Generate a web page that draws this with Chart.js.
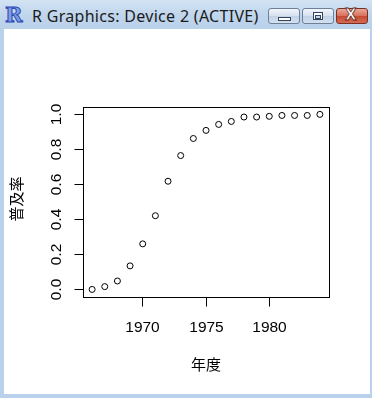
<!DOCTYPE html>
<html>
<head>
<meta charset="utf-8">
<script src="https://cdn.jsdelivr.net/npm/chart.js@4.4.0/dist/chart.umd.min.js"></script>
<style>
  html, body { margin: 0; padding: 0; }
  body { width: 372px; height: 398px; background: #b9d1ea; position: relative; overflow: hidden; }
  #titlebar { position: absolute; left: 0; top: 0; width: 372px; height: 29px;
    background: linear-gradient(#d3e3f4, #bfd5ec 55%, #b9d1ea); }
  #ricon { position: absolute; left: 5px; top: 2px; font: bold 21px "DejaVu Serif", serif;
    color: #7f9fe0; -webkit-text-stroke: 1px #2a46b5; }
  #title { position: absolute; left: 32px; top: 5px; font: 16px "Noto Sans", sans-serif;
    letter-spacing: 0.3px; color: #1b1b1b; white-space: nowrap; }
  .btn { position: absolute; top: 8px; width: 30px; height: 14px; border: 1px solid #6e7f98;
    border-radius: 3px; background: linear-gradient(#f1f5fb, #d5e0ee 50%, #c2d1e6 51%, #d4e0ef); }
  .btn.close { border-color: #7a3024; background: linear-gradient(#eaa899, #d6705c 50%, #c64a32 51%, #d46a50); }
  .glyph { position: absolute; }
  #gmin { left: 9px; top: 8px; width: 11px; height: 2px; background: #fff; border: 1px solid #34445e; }
  #gmax { left: 10px; top: 3px; width: 8px; height: 6px; border: 1px solid #34445e; background: #fff; }
  #gmax:after { content: ""; position: absolute; left: 1px; top: 2px; width: 4px; height: 2px; background: #c9d6e8; border: 1px solid #34445e; }
  #gclose { left: 8px; top: -3px; font: bold 15px "DejaVu Sans", sans-serif; color: #fff;
    -webkit-text-stroke: 0.8px #5a1f16; }
  #client { position: absolute; left: 4px; top: 29px; width: 366px; height: 365px; background: #fff; }
  canvas { display: block; }
</style>
</head>
<body>
<div id="titlebar">
  <div id="ricon">R</div>
  <div id="title">R Graphics: Device 2 (ACTIVE)</div>
  <div class="btn" style="left:268px"><div class="glyph" id="gmin"></div></div>
  <div class="btn" style="left:302px"><div class="glyph" id="gmax"></div></div>
  <div class="btn close" style="left:336px"><div class="glyph" id="gclose">X</div></div>
</div>
<div id="client"><canvas id="plot" width="366" height="365"></canvas></div>
<script>
var years = [1966, 1967, 1968, 1969, 1970, 1971, 1972, 1973, 1974, 1975, 1976, 1977, 1978, 1979, 1980, 1981, 1982, 1983, 1984];
var rates = [0.003, 0.019, 0.051, 0.137, 0.262, 0.422, 0.618, 0.764, 0.861, 0.907, 0.941, 0.958, 0.983, 0.983, 0.987, 0.992, 0.992, 0.992, 0.998];
var xTicks = [1970, 1975, 1980];
var xTickLabels = ["1970", "1975", "1980"];
var yTicks = [0, 0.2, 0.4, 0.6, 0.8, 1.0];
var yTickLabels = ["0.0", "0.2", "0.4", "0.6", "0.8", "1.0"];
var xTitle = "年度";
var yTitle = "普及率";

var points = [];
for (var i = 0; i < years.length; i++) {
  points.push({x: years[i], y: rates[i]});
}

// R style frame: box, outward ticks, labels
var rAxes = {
  id: 'rAxes',
  afterDraw: function(chart) {
    var ctx = chart.ctx;
    var a = chart.chartArea;
    var sx = chart.scales.x, sy = chart.scales.y;
    var L = Math.floor(a.left) + 0.5, R = Math.floor(a.right) + 0.5;
    var T = Math.floor(a.top) + 0.5, B = Math.floor(a.bottom) + 0.5;
    ctx.save();
    ctx.strokeStyle = "#000";
    ctx.lineWidth = 1;
    ctx.strokeRect(L, T, R - L, B - T);

    ctx.fillStyle = "#000";
    ctx.font = '15.5px "Liberation Sans", Arial, sans-serif';
    ctx.textAlign = "center";
    ctx.textBaseline = "alphabetic";
    xTicks.forEach(function(v, i) {
      var px = Math.floor(sx.getPixelForValue(v)) + 0.5;
      ctx.beginPath();
      ctx.moveTo(px, B);
      ctx.lineTo(px, B + 9);
      ctx.stroke();
      ctx.fillText(xTickLabels[i], px, B + 34);
    });
    yTicks.forEach(function(v, i) {
      var py = Math.floor(sy.getPixelForValue(v)) + 0.5;
      ctx.beginPath();
      ctx.moveTo(L, py);
      ctx.lineTo(L - 9, py);
      ctx.stroke();
      ctx.save();
      ctx.translate(L - 23, py);
      ctx.rotate(-Math.PI / 2);
      ctx.fillText(yTickLabels[i], 0, 0);
      ctx.restore();
    });

    ctx.font = '15px "Noto Sans CJK JP", sans-serif';
    ctx.textBaseline = "middle";
    ctx.fillText(xTitle, (a.left + a.right) / 2, B + 67);
    ctx.save();
    ctx.translate(L - 67, (a.top + a.bottom) / 2 - 3);
    ctx.rotate(-Math.PI / 2);
    ctx.fillText(yTitle, 0, 0);
    ctx.restore();
    ctx.restore();
  }
};

var chart = new Chart(document.getElementById("plot").getContext("2d"), {
  type: "scatter",
  data: {
    datasets: [{
      data: points,
      showLine: false,
      pointStyle: "circle",
      pointRadius: 3,
      pointBorderWidth: 1,
      pointBorderColor: "#000",
      pointBackgroundColor: "rgba(0,0,0,0)"
    }]
  },
  options: {
    responsive: false,
    animation: false,
    events: [],
    layout: {
      padding: {left: 79, right: 41, top: 78, bottom: 97}
    },
    plugins: {
      legend: {display: false},
      tooltip: {enabled: false}
    },
    scales: {
      x: {type: "linear", min: 1965.28, max: 1984.72, display: false},
      y: {type: "linear", min: -0.04, max: 1.04, display: false}
    }
  },
  plugins: [rAxes]
});
</script>
</body>
</html>
